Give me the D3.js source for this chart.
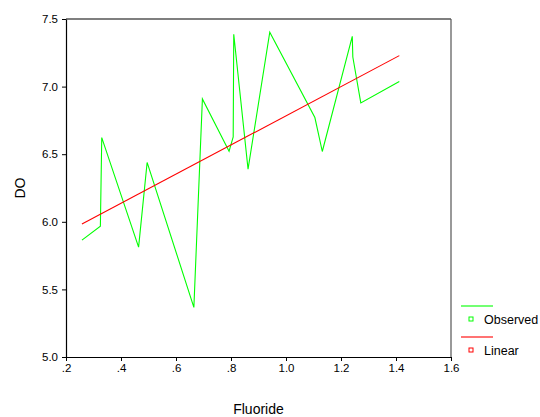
<!DOCTYPE html>
<html>
<head>
<meta charset="utf-8">
<script src="https://cdn.jsdelivr.net/npm/d3@7"></script>
<style>
  body { margin: 0; background: #fff; }
  svg text { font-family: "Liberation Sans", Arial, sans-serif; fill: #000; }
</style>
</head>
<body>
<div id="chart"></div>
<script>
// observed DO vs fluoride, in plotted order
const fluoride = [0.258, 0.325, 0.330, 0.464, 0.495, 0.665, 0.696, 0.793, 0.808, 0.810,
  0.862, 0.941, 1.105, 1.132, 1.241, 1.243, 1.272, 1.412];
const observedDO = [5.864, 5.968, 6.623, 5.813, 6.439, 5.367, 6.909, 6.522, 6.628, 7.387,
  6.389, 7.402, 6.771, 6.520, 7.372, 7.219, 6.879, 7.037];

// linear fit line, ends
const linearX = [0.258, 1.412];
const linearY = [5.983, 7.229];

const xTicks = [0.2, 0.4, 0.6, 0.8, 1.0, 1.2, 1.4, 1.6];
const yTicks = [5.0, 5.5, 6.0, 6.5, 7.0, 7.5];
const legendNames = ['Observed', 'Linear'];
const legendColors = ['#00ff00', '#ff0000'];

const width = 540, height = 417;
const margin = {top: 19, right: 89, bottom: 60, left: 66};
const plotW = width - margin.left - margin.right;
const plotH = height - margin.top - margin.bottom;

const svg = d3.select('#chart')
  .append('svg')
    .attr('width', width)
    .attr('height', height);

const g = svg.append('g')
  .attr('transform', 'translate(' + margin.left + ',' + margin.top + ')');

const xScale = d3.scaleLinear().domain([0.2, 1.6]).range([0, plotW]);
const yScale = d3.scaleLinear().domain([5.0, 7.5]).range([plotH, 0]);

function fmtX(d) {
  const s = d.toFixed(1);
  return d < 1 ? s.slice(1) : s;
}

const xAxis = g.append('g')
  .attr('transform', 'translate(0,' + plotH + ')')
  .call(d3.axisBottom(xScale).tickValues(xTicks).tickFormat(fmtX).tickSize(4).tickSizeOuter(0));

const yAxis = g.append('g')
  .call(d3.axisLeft(yScale).tickValues(yTicks).tickFormat(d3.format('.1f')).tickSize(4).tickSizeOuter(0));

[xAxis, yAxis].forEach((ax) => {
  ax.select('.domain').attr('stroke', '#000').attr('stroke-width', 1.2);
  ax.selectAll('.tick line').attr('stroke', '#000');
  ax.selectAll('.tick text')
    .attr('font-size', 11.5)
    .attr('font-family', '"Liberation Sans", Arial, sans-serif')
    .attr('fill', '#222');
});
yAxis.selectAll('.tick text').attr('x', -8);

// top and right frame
g.append('line')
  .attr('x1', 0).attr('x2', plotW).attr('y1', 0).attr('y2', 0)
  .attr('stroke', '#000').attr('stroke-width', 1.2);
g.append('line')
  .attr('x1', plotW).attr('x2', plotW).attr('y1', 0).attr('y2', plotH)
  .attr('stroke', '#555').attr('stroke-width', 1.2);

const observed = fluoride.map((f, i) => ({x: f, y: observedDO[i]}));
const linear = linearX.map((f, i) => ({x: f, y: linearY[i]}));

const line = d3.line()
  .x(function(d) { return xScale(d.x); })
  .y(function(d) { return yScale(d.y); });

g.append('path')
  .datum(observed)
  .attr('d', line)
  .attr('fill', 'none')
  .attr('stroke', legendColors[0])
  .attr('stroke-width', 1.1);

g.append('path')
  .datum(linear)
  .attr('d', line)
  .attr('fill', 'none')
  .attr('stroke', legendColors[1])
  .attr('stroke-width', 1.1);

// axis titles
svg.append('text')
  .attr('x', margin.left + plotW / 2)
  .attr('y', 414)
  .attr('text-anchor', 'middle')
  .attr('font-size', 14)
  .text('Fluoride');

svg.append('text')
  .attr('transform', 'translate(25,' + (margin.top + plotH / 2) + ') rotate(-90)')
  .attr('text-anchor', 'middle')
  .attr('font-size', 14)
  .text('DO');

// legend
const legend = svg.append('g').attr('transform', 'translate(461,306)');
legendNames.forEach((name, i) => {
  const row = legend.append('g').attr('transform', 'translate(0,' + (i * 31) + ')');
  row.append('line')
    .attr('x1', 0).attr('x2', 32).attr('y1', 0).attr('y2', 0)
    .attr('stroke', legendColors[i]).attr('stroke-width', 1.1);
  row.append('rect')
    .attr('x', 8).attr('y', 11).attr('width', 4).attr('height', 4)
    .attr('fill', 'none').attr('stroke', legendColors[i]).attr('stroke-width', 1);
  row.append('text')
    .attr('x', 23).attr('y', 18)
    .attr('font-size', 12.5)
    .text(name);
});
</script>
</body>
</html>
